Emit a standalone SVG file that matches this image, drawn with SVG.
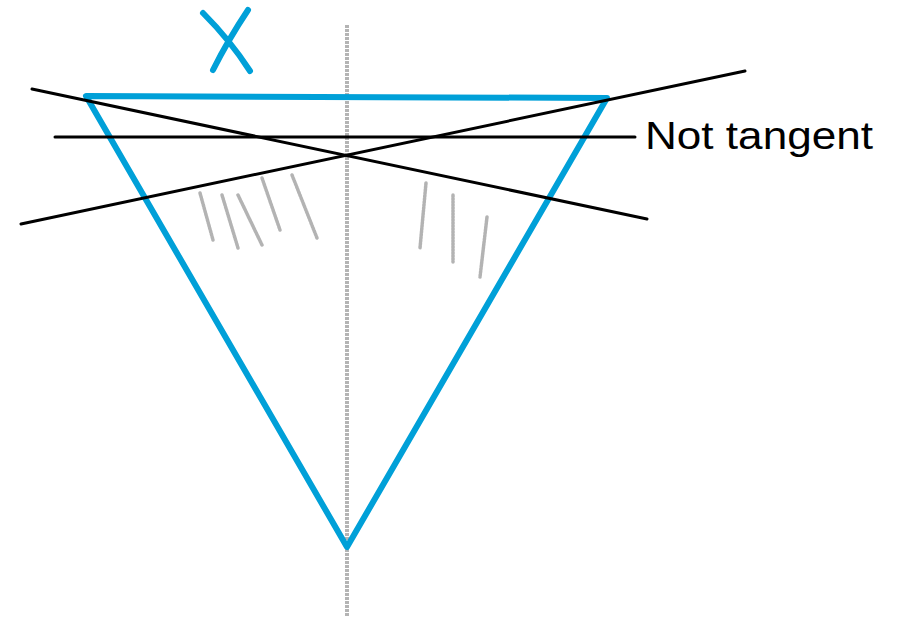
<svg xmlns="http://www.w3.org/2000/svg" width="902" height="619" viewBox="0 0 902 619">
<style>
.axis{stroke:#b4b4b4;stroke-width:4;stroke-dasharray:3 1;fill:none}
.hatch{stroke:#a0a0a0;stroke-width:3.5;stroke-dasharray:2 1;stroke-linecap:round;fill:none;opacity:0.8}
.blue{stroke:#00A0D8;stroke-width:6;fill:none;stroke-linecap:round;stroke-linejoin:round}
.bl{stroke:#000;stroke-width:3;stroke-linecap:round;fill:none}
.lbl{font-family:"Liberation Sans","Open Sans",sans-serif;font-size:38px;fill:#000}
</style>
<rect width="902" height="619" fill="#fff"/>
<g id="axis">
<line class="axis" x1="347" y1="25" x2="347" y2="617"/>
</g>
<g id="hatching">
<line class="hatch" x1="200" y1="193" x2="213" y2="240"/>
<line class="hatch" x1="222" y1="195" x2="238" y2="248"/>
<line class="hatch" x1="238" y1="195" x2="262" y2="245"/>
<line class="hatch" x1="262" y1="178" x2="280" y2="230"/>
<line class="hatch" x1="292" y1="175" x2="317" y2="238"/>
<line class="hatch" x1="426" y1="183" x2="420" y2="248"/>
<line class="hatch" x1="453" y1="195" x2="453" y2="262"/>
<line class="hatch" x1="487" y1="217" x2="480" y2="277"/>
</g>
<g id="triangle">
<polygon class="blue" points="86,96 607,98 347,547"/>
</g>
<g id="x-label">
<path class="blue" d="M203,13 Q230,40 250,71"/>
<path class="blue" d="M248,10 Q228,40 213,70"/>
</g>
<g id="connectors">
<line class="bl" x1="32" y1="89" x2="647" y2="219"/>
<line class="bl" x1="21" y1="224" x2="745" y2="71"/>
<line class="bl" x1="55" y1="137" x2="635" y2="137"/>
</g>
<g id="label">
<text class="lbl" x="645" y="149" textLength="228" lengthAdjust="spacingAndGlyphs">Not tangent</text>
</g>
</svg>
